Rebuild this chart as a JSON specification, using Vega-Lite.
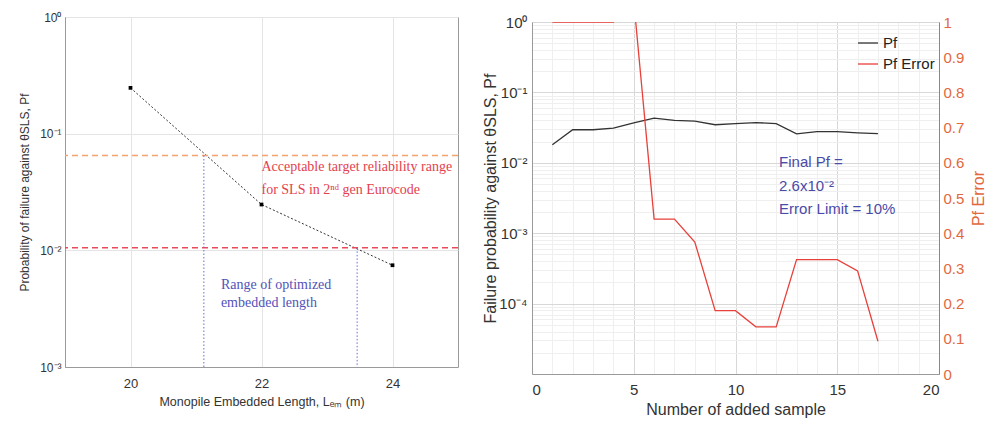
{
  "$schema": "https://vega.github.io/schema/vega-lite/v6.json",
  "padding": {"left": 18, "top": 10, "right": 0, "bottom": 0},
  "background": "white",
  "config": {
    "font": "Liberation Sans",
    "view": {"stroke": "#9a9a9a", "strokeWidth": 1},
    "axis": {
      "titleFontWeight": "normal",
      "labelColor": "#333333",
      "titleColor": "#333333",
      "domainColor": "#9a9a9a",
      "tickColor": "#9a9a9a",
      "gridColor": "#e4e4e4",
      "labelOverlap": false
    }
  },
  "datasets": {
    "emb": [
      {"L": 20, "Pf": 0.247},
      {"L": 22, "Pf": 0.0247},
      {"L": 24, "Pf": 0.00745}
    ],
    "samp": [
      {"n": 1, "Pf": 0.018, "Err": 1.0},
      {"n": 2, "Pf": 0.0295, "Err": 1.0},
      {"n": 3, "Pf": 0.0295, "Err": 1.0},
      {"n": 4, "Pf": 0.031, "Err": 1.0},
      {"n": 5, "Pf": 0.037, "Err": 1.06},
      {"n": 6, "Pf": 0.043, "Err": 0.44},
      {"n": 7, "Pf": 0.04, "Err": 0.44},
      {"n": 8, "Pf": 0.039, "Err": 0.375},
      {"n": 9, "Pf": 0.0347, "Err": 0.18},
      {"n": 10, "Pf": 0.036, "Err": 0.18},
      {"n": 11, "Pf": 0.0373, "Err": 0.134},
      {"n": 12, "Pf": 0.036, "Err": 0.134},
      {"n": 13, "Pf": 0.0258, "Err": 0.325},
      {"n": 14, "Pf": 0.0278, "Err": 0.325},
      {"n": 15, "Pf": 0.0278, "Err": 0.325},
      {"n": 16, "Pf": 0.0267, "Err": 0.293},
      {"n": 17, "Pf": 0.026, "Err": 0.093}
    ]
  },
  "spacing": 22,
  "hconcat": [
    {
      "width": 393,
      "height": 350,
      "data": {"name": "emb"},
      "layer": [
        {
          "mark": {"type": "line", "color": "#333333", "strokeDash": [2, 2], "strokeWidth": 1},
          "encoding": {
            "x": {
              "field": "L", "type": "quantitative",
              "scale": {"domain": [19, 25], "nice": false, "zero": false},
              "axis": {
                "values": [20, 22, 24],
                "format": "d",
                "title": "Monopile Embedded Length, Lₑₘ (m)",
                "labelFontSize": 13, "titleFontSize": 12.5,
                "ticks": false, "labelPadding": 10, "titlePadding": 5
              }
            },
            "y": {
              "field": "Pf", "type": "quantitative",
              "scale": {"type": "log", "domain": [0.001, 1], "nice": false},
              "axis": {
                "values": [0.001, 0.01, 0.1, 1],
                "labelExpr": "datum.value > 0.5 ? '10⁰' : datum.value > 0.05 ? '10⁻¹' : datum.value > 0.005 ? '10⁻²' : '10⁻³'",
                "title": "Probability of failure against θSLS, Pf",
                "labelFontSize": 12, "titleFontSize": 12,
                "ticks": false, "labelPadding": 4, "titlePadding": 8
              }
            }
          }
        },
        {
          "mark": {"type": "square", "color": "#000000", "size": 14, "opacity": 1, "filled": true},
          "encoding": {
            "x": {"field": "L", "type": "quantitative"},
            "y": {"field": "Pf", "type": "quantitative"}
          }
        },
        {
          "data": {"values": [{}]},
          "mark": {"type": "rule", "color": "#f2a46e", "strokeDash": [6, 4], "strokeWidth": 1.5},
          "encoding": {"y": {"datum": 0.065}}
        },
        {
          "data": {"values": [{}]},
          "mark": {"type": "rule", "color": "#ea4a58", "strokeDash": [6, 4], "strokeWidth": 1.5},
          "encoding": {"y": {"datum": 0.0105}}
        },
        {
          "data": {"values": [{}]},
          "mark": {"type": "rule", "color": "#6a6ad8", "strokeDash": [1.5, 2], "strokeWidth": 1},
          "encoding": {"x": {"datum": 21.12}, "y": {"datum": 0.065}, "y2": {"datum": 0.001}}
        },
        {
          "data": {"values": [{}]},
          "mark": {"type": "rule", "color": "#6a6ad8", "strokeDash": [1.5, 2], "strokeWidth": 1},
          "encoding": {"x": {"datum": 23.46}, "y": {"datum": 0.0105}, "y2": {"datum": 0.001}}
        },
        {
          "data": {"values": [{}]},
          "mark": {"type": "text", "align": "left", "baseline": "middle", "font": "Liberation Serif", "fontSize": 14, "color": "#e5404e"},
          "encoding": {"x": {"datum": 22}, "y": {"datum": 0.0522}, "text": {"value": "Acceptable target reliability range"}}
        },
        {
          "data": {"values": [{}]},
          "mark": {"type": "text", "align": "left", "baseline": "middle", "font": "Liberation Serif", "fontSize": 14, "color": "#e5404e"},
          "encoding": {"x": {"datum": 22}, "y": {"datum": 0.0332}, "text": {"value": "for SLS in 2ⁿᵈ gen Eurocode"}}
        },
        {
          "data": {"values": [{}]},
          "mark": {"type": "text", "align": "left", "baseline": "middle", "font": "Liberation Serif", "fontSize": 14, "color": "#5252b8"},
          "encoding": {"x": {"datum": 21.38}, "y": {"datum": 0.00502}, "text": {"value": "Range of optimized"}}
        },
        {
          "data": {"values": [{}]},
          "mark": {"type": "text", "align": "left", "baseline": "middle", "font": "Liberation Serif", "fontSize": 14, "color": "#5252b8"},
          "encoding": {"x": {"datum": 21.38}, "y": {"datum": 0.00352}, "text": {"value": "embedded length"}}
        }
      ]
    },
    {
      "vconcat": [
        {
          "width": 407,
          "height": 1,
          "view": {"stroke": null},
          "data": {"values": []},
          "mark": "point",
          "encoding": {}
        },
        {
          "width": 407,
          "height": 352,
          "data": {"name": "samp"},
          "layer": [
            {
              "layer": [
                {
                  "mark": {"type": "line", "strokeWidth": 1.3},
                  "encoding": {
                    "x": {
                      "field": "n", "type": "quantitative",
                      "scale": {"domain": [0, 20], "nice": false},
                      "axis": {
                        "values": [0, 5, 10, 15, 20],
                        "gridColor": "#d8d8d8",
                        "ticks": false,
                        "title": "Number of added sample",
                        "labelFontSize": 15, "titleFontSize": 16,
                        "labelPadding": 8, "titlePadding": 4
                      }
                    },
                    "y": {
                      "field": "Pf", "type": "quantitative",
                      "scale": {"type": "log", "domain": [0.00001, 1], "nice": false},
                      "axis": {
                        "values": [0.00001,0.00002,0.00003,0.00004,0.00005,0.00006,0.00007,0.00008,0.00009,0.0001,0.0002,0.0003,0.0004,0.0005,0.0006,0.0007,0.0008,0.0009,0.001,0.002,0.003,0.004,0.005,0.006,0.007,0.008,0.009,0.01,0.02,0.03,0.04,0.05,0.06,0.07,0.08,0.09,0.1,0.2,0.3,0.4,0.5,0.6,0.7,0.8,0.9,1],
                        "labelExpr": "datum.value > 0.95 ? '10⁰' : datum.value === 0.1 ? '10⁻¹' : datum.value === 0.01 ? '10⁻²' : datum.value === 0.001 ? '10⁻³' : datum.value === 0.0001 ? '10⁻⁴' : ''",
                        "gridColor": {"condition": {"test": "indexof([1, 0.1, 0.01, 0.001, 0.0001, 0.00001], datum.value) >= 0", "value": "#d8d8d8"}, "value": "#efefef"},
                        "ticks": false,
                        "title": "Failure  probability  against  θSLS,  Pf",
                        "labelFontSize": 15, "titleFontSize": 16,
                        "labelPadding": 5, "titlePadding": 0
                      }
                    },
                    "color": {
                      "datum": "Pf", "type": "nominal",
                      "scale": {"domain": ["Pf", "Pf Error"], "range": ["#333333", "#e8403a"]},
                      "legend": {
                        "title": null, "orient": "none", "legendX": 792, "legendY": 15,
                        "symbolType": "stroke", "symbolSize": 400, "symbolStrokeWidth": 1.3,
                        "labelFontSize": 15, "labelColor": "#222222", "rowPadding": 2
                      }
                    }
                  }
                },
                {
                  "data": {"values": [{}]},
                  "mark": {"type": "text", "align": "left", "baseline": "middle", "fontSize": 15, "color": "#4a4aa8"},
                  "encoding": {"x": {"datum": 12.14}, "y": {"datum": 0.0103}, "text": {"value": "Final  Pf  ="}}
                },
                {
                  "data": {"values": [{}]},
                  "mark": {"type": "text", "align": "left", "baseline": "middle", "fontSize": 15, "color": "#4a4aa8"},
                  "encoding": {"x": {"datum": 12.14}, "y": {"datum": 0.00472}, "text": {"value": "2.6x10⁻²"}}
                },
                {
                  "data": {"values": [{}]},
                  "mark": {"type": "text", "align": "left", "baseline": "middle", "fontSize": 15, "color": "#4a4aa8"},
                  "encoding": {"x": {"datum": 12.14}, "y": {"datum": 0.00223}, "text": {"value": "Error  Limit  =  10%"}}
                }
              ]
            },
            {
              "mark": {"type": "line", "strokeWidth": 1.3, "clip": true},
              "encoding": {
                "x": {
                  "field": "n", "type": "quantitative",
                  "scale": {"domain": [0, 20], "nice": false},
                  "axis": {
                    "orient": "top",
                    "values": [1,2,3,4,6,7,8,9,11,12,13,14,16,17,18,19],
                    "labels": false, "ticks": false, "domain": false, "title": null,
                    "grid": true, "gridColor": "#efefef"
                  }
                },
                "y": {
                  "field": "Err", "type": "quantitative",
                  "scale": {"domain": [0, 1], "nice": false},
                  "axis": {
                    "orient": "right",
                    "values": [0,0.1,0.2,0.3,0.4,0.5,0.6,0.7,0.8,0.9,1],
                    "labelExpr": "format(datum.value, '.1~f')",
                    "grid": false,
                    "labelColor": "#e2683e", "domainColor": "#e2683e", "tickColor": "#e2683e", "titleColor": "#e2683e",
                    "ticks": false,
                    "title": "Pf Error", "titleAngle": 270, "titleX": 39, "titleBaseline": "middle", "titleAlign": "center",
                    "labelFontSize": 15, "titleFontSize": 16,
                    "labelPadding": 4
                  }
                },
                "color": {"datum": "Pf Error", "type": "nominal"}
              }
            }
          ],
          "resolve": {"scale": {"y": "independent", "x": "independent"}}
        }
      ],
      "spacing": 4,
      "bounds": "flush"
    }
  ]
}
